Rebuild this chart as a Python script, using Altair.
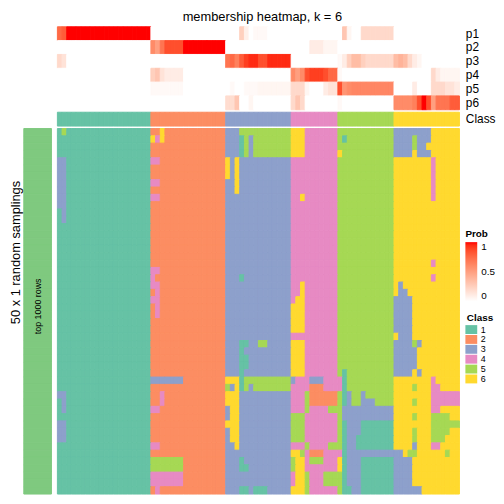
import altair as alt
import pandas as pd

TITLE = "membership heatmap, k = 6"
ROW_TITLE = "50 x 1 random samplings"
ANNOT_LABEL = "top 1000 rows"
FONT = "Liberation Sans"

CLASS_NAMES = ["1", "2", "3", "4", "5", "6"]
CLASS_COLORS = ["#66C2A5", "#FC8D62", "#8DA0CB", "#E78AC3", "#A6D854", "#FFD92F"]
ANNOT_COLOR = "#7FC97F"
PROB_ROWS = ["p1", "p2", "p3", "p4", "p5", "p6"]

# consensus class of each column (sample)
COL_CLASS = "11111111111111111111 2222222222222222 33333333333333 4444444444 555555555555 66666666666666"

# membership probabilities per column (segments follow the six class blocks)
P1 = [0.75, 0.8] + [1.0] * 18 + [0] * 16 + \
     [0, 0, 0, 0.25, 0.08, 0, 0.03, 0.03, 0.03, 0, 0, 0, 0, 0] + [0] * 10 + \
     [0, 0.3, 0.05, 0, 0, 0.2, 0.2, 0.2, 0.2, 0.2, 0.2, 0.2] + [0] * 14
P2 = [0] * 20 + [0.6, 0.5, 0.7, 0.85, 0.85, 0.85, 0.85] + [1.0] * 9 + [0] * 14 + \
     [0, 0, 0, 0, 0.1, 0.1, 0.1, 0.05, 0.05, 0.05] + [0] * 26
P3 = [0.2, 0.15] + [0] * 18 + [0] * 16 + \
     [0.7, 0.75, 0.65, 0.8, 0.9, 0.95, 0.95, 0.85, 0.85, 0.95, 0.95, 0.95, 0.95, 0.95] + [0] * 10 + \
     [0.03, 0.1, 0.25, 0.35, 0.35, 0.25, 0.2, 0.2, 0.2, 0.2, 0.2, 0.2] + \
     [0.35, 0.4, 0.35, 0.2, 0.1, 0.05, 0, 0, 0, 0, 0, 0, 0, 0]
P4 = [0] * 20 + [0.25, 0.3, 0.15, 0.1, 0.1, 0.1, 0.1] + [0] * 9 + [0] * 14 + \
     [0.6, 0.5, 0.6, 0.85, 0.9, 0.9, 0.9, 0.85, 0.75, 0.75] + [0.03] + [0] * 11 + \
     [0, 0, 0, 0, 0, 0, 0, 0, 0.2, 0.1, 0.05, 0.05, 0.05, 0.05]
P5 = [0] * 20 + [0.03] * 7 + [0] * 9 + \
     [0, 0.03, 0, 0, 0.03, 0.03, 0.03, 0.05, 0.05, 0.05, 0.05, 0.05, 0.05, 0.05] + \
     [0.2, 0.2, 0.2, 0.05, 0, 0, 0, 0.1, 0.15, 0.15] + \
     [0.85, 0.55, 0.6, 0.62, 0.62, 0.62, 0.62, 0.62, 0.62, 0.62, 0.62, 0.62] + \
     [0, 0, 0, 0, 0.1, 0, 0, 0, 0.2, 0.2, 0.2, 0.15, 0.15, 0.1]
P6 = [0] * 20 + [0] * 16 + [0.18, 0.18, 0.3, 0, 0, 0.05] + [0] * 8 + \
     [0.2, 0.3, 0.2] + [0] * 7 + [0.03] + [0] * 11 + \
     [0.6, 0.6, 0.6, 0.6, 0.65, 0.85, 1.0, 0.85, 0.5, 0.7, 0.7, 0.7, 0.8, 0.8]
PROBS = [P1, P2, P3, P4, P5, P6]

# class assigned to each column in each of the 50 random samplings
SAMPLINGS = [
    "15111111111111111111 2262222222222222 33355555555555 6664444444 555555555555 33333333666666",
    "11111111111111111111 6462222222222222 33315355555555 6664444444 515555555555 33335333666666",
    "11111111111111111111 2222222222222222 33315355555555 6664444444 555555555555 33335336666666",
    "11111111111111111111 2222222222222222 33315355555555 6664444444 655555555555 33336333666666",
    "33111111111111111111 4422222222222222 63633333333333 4444444444 555555555555 66666666466666",
    "33111111111111111111 2222222222222222 63633333333333 4444444444 555555555555 66666666466666",
    "33111111111111111111 2222222222222222 63633333333333 4444444444 555555555555 66666666466666",
    "33111111111111111111 4422222222222222 33633333333333 4444444444 555555555555 66666666466666",
    "33111111111111111111 2222222222222222 33633333333333 4444444444 555555555555 66666666466666",
    "33111111111111111111 4422222222222222 33333333333333 4464444444 555555555555 66666666466666",
    "33111111111111111111 2222222222222222 33333333333333 4444444444 555555555555 66666666666666",
    "13111111111111111111 2222222222222222 33333333333333 4444444444 555555555555 66666666666666",
    "13111111111111111111 2222222222222222 33333333333333 4444444444 555555555555 66666666666666",
    "11111111111111111111 2222222222222222 33333333333333 4444444444 555555555555 66666666666666",
    "11111111111111111111 2222222222222222 33333333333333 4444444444 555555555555 66666666666666",
    "11111111111111111111 2222222222222222 33333333333333 4444444444 555555555555 66666666666666",
    "11111111111111111111 2222222222222222 33333333333333 4444444444 555555555555 66666666666666",
    "11111111111111111111 2222222222222222 33333333333333 4444444444 555555555555 66666666666666",
    "11111111111111111111 2222222222222222 33333333333333 4444444444 555555555555 66666666466666",
    "11111111111111111111 4422222222222222 33333333333333 4444444444 555555555555 66666666666666",
    "11111111111111111111 4222222222222222 33313333333333 4444444444 555555555555 66666666466666",
    "11111111111111111111 4422222222222222 33333333333333 4464444444 555555555555 63666666666666",
    "11111111111111111111 2422222222222222 33333333333333 4464444444 555555555555 63366666666666",
    "11111111111111111111 4422222222222222 33333333333333 4664444444 555555555555 33336666666666",
    "11111111111111111111 2422222222222222 33333333333333 6664444444 555555555555 33336666666666",
    "11111111111111111111 2422222222222222 33333333333333 6664444444 555555555555 33336666666666",
    "11111111111111111111 2222222222222222 33333333333333 6664444444 555555555555 33336666666666",
    "11111111111111111111 2222222222222222 33333333333333 6664444444 555555555555 33336666666666",
    "11111111111111111111 2222222222222222 33333333333333 4444444444 555555555555 63336666666666",
    "11111111111111111111 2222222222222222 33311335533333 6664444444 555555555555 33335366666666",
    "11111111111111111111 2222222222222222 33313333333333 6664444444 555555555555 33333666666666",
    "11111111111111111111 2222222222222222 33311333333333 6664444444 555555555555 33333666666666",
    "11111111111111111111 2222222222222222 33311333333333 6664444444 555555555555 33333666666666",
    "11111111111111111111 2222222222222222 33313333333333 6664444444 515555555555 33336366666666",
    "11111111111111111111 3333333222222222 66615555555555 3444333444 415555555555 66666666466666",
    "11111111111111111111 2222222222222222 53615355555555 4444222444 415555555555 66665666446666",
    "33111111111111111111 2242222222222222 66633333333333 4445222222 513553555555 66666666444444",
    "13111111111111111111 2242222222222222 66633333333333 4445222222 513553335555 66665666444444",
    "13111111111111111111 4422222222222222 36633333333333 4445444455 533333333333 66666666446666",
    "11111111111111111111 2222222222222222 36633333333333 5554444444 533333333333 66665666555566",
    "33111111111111111111 2222222222222222 66633333333333 5554444444 513331111111 66666666555555",
    "33111111111111111111 2222222222222222 36633333333333 5554444444 513331111111 66665666555566",
    "33111111111111111111 2222222222222222 36633333333333 5554444444 513311111111 66665666555666",
    "11111111111111111111 4422222222222222 33633333333333 4445444455 513311111111 66663666446666",
    "11111111111111111111 2222222222222222 33333333333333 6654222444 413333333333 33655666666566",
    "11111111111111111111 5555555222222222 33313333333333 5664555444 613331111111 33336666666666",
    "11111111111111111111 5555555222222222 33311333333333 5664444444 613331111111 33336666666666",
    "11111111111111111111 4444444222222222 33333333333333 4665444555 513331111111 33336666666666",
    "11111111111111111111 4444444222222222 33333333333333 4665444555 513331111111 33336666666666",
    "11111111111111111111 2422222222222222 33311311133333 6665444444 511331111111 33333366666666",
]

# ---------------- tables ----------------
col_class = COL_CLASS.replace(" ", "")
n_cols = len(col_class)

prob_records = []
for name, vals in zip(PROB_ROWS, PROBS):
    assert len(vals) == n_cols
    for c, v in enumerate(vals):
        prob_records.append({"p": name, "col": c, "prob": v})
prob_df = pd.DataFrame(prob_records)

class_df = pd.DataFrame({"col": list(range(n_cols)), "cls": list(col_class), "lab": "Class"})

main_records = []
for r, s in enumerate(SAMPLINGS):
    s = s.replace(" ", "")
    assert len(s) == n_cols, (r, len(s))
    for c, ch in enumerate(s):
        main_records.append({"row": r, "col": c, "cls": ch})
main_df = pd.DataFrame(main_records)

annot_df = pd.DataFrame({"row": list(range(len(SAMPLINGS))), "ann": ANNOT_LABEL})

# ---------------- layout ----------------
W_MAIN = 407
H_PROB = 84
H_CLASS = 14
H_MAIN = 370
W_ANNOT = 28
SW = 1.0  # same-colour cell outline hides anti-aliasing seams

band = alt.Scale(paddingInner=0, paddingOuter=0)
prob_scale = alt.Scale(domain=[0, 1], range=["#ffffff", "#ff0000"], interpolate="lab")
# identical mapping written in reverse so its legend is not merged with the fill legend
edge_scale = alt.Scale(domain=[1, 0], range=["#ff0000", "#ffffff"], interpolate="lab")
class_scale = alt.Scale(domain=CLASS_NAMES, range=CLASS_COLORS)
xcol = alt.X("col:O", axis=None, scale=band)
row_axis = dict(orient="right", title=None, ticks=False, domain=False, labelPadding=6,
                labelFontSize=12, labelFont=FONT, labelColor="black")

prob_chart = alt.Chart(prob_df).mark_rect(strokeWidth=SW).encode(
    x=xcol,
    y=alt.Y("p:N", sort=PROB_ROWS, axis=alt.Axis(**row_axis), scale=band),
    fill=alt.Fill("prob:Q", scale=prob_scale, legend=alt.Legend(
        type="gradient", title="Prob", orient="none", legendX=413, legendY=205,
        direction="vertical", gradientLength=60, gradientThickness=12,
        values=[0, 0.5, 1], format="~g",
        titleFont=FONT, titleFontSize=10, titleFontWeight="bold", titleColor="black",
        labelFont=FONT, labelFontSize=10, labelColor="black", titlePadding=3, padding=0,
        gradientStrokeWidth=0, labelOffset=4)),
    stroke=alt.Stroke("prob:Q", scale=edge_scale, legend=None),
).properties(width=W_MAIN, height=H_PROB)

class_chart = alt.Chart(class_df).mark_rect(strokeWidth=SW).encode(
    x=xcol,
    y=alt.Y("lab:N", axis=alt.Axis(**row_axis), scale=band),
    fill=alt.Fill("cls:N", scale=class_scale, legend=None),
    stroke=alt.Stroke("cls:N", scale=class_scale, legend=None),
).properties(width=W_MAIN, height=H_CLASS)

main_chart = alt.Chart(main_df).mark_rect(strokeWidth=SW).encode(
    x=xcol,
    y=alt.Y("row:O", axis=None, scale=band),
    fill=alt.Fill("cls:N", scale=class_scale, legend=alt.Legend(
        title="Class", orient="none", legendX=414.5, legendY=187,
        symbolType="M-1.33,-1H1.33V1H-1.33Z", symbolSize=81, symbolStrokeWidth=0,
        rowPadding=-1, labelOffset=5, padding=0, titlePadding=2,
        titleFont=FONT, titleFontSize=10, titleFontWeight="bold", titleColor="black",
        labelFont=FONT, labelFontSize=9, labelColor="black")),
    stroke=alt.Stroke("cls:N", scale=class_scale, legend=None),
).properties(width=W_MAIN, height=H_MAIN)

annot_bar = alt.Chart(annot_df).mark_rect(strokeWidth=SW).encode(
    x=alt.X("ann:N", axis=None, scale=band),
    y=alt.Y("row:O", scale=band, axis=alt.Axis(
        title=ROW_TITLE, labels=False, ticks=False, domain=False, titleFont=FONT,
        titleFontSize=13, titleFontWeight="normal", titleColor="black",
        titlePadding=1, titleY=125)),
    fill=alt.value(ANNOT_COLOR),
    stroke=alt.value(ANNOT_COLOR),
)
# dx acts along the rotated text, i.e. it moves the label up the bar
annot_text = alt.Chart(pd.DataFrame({"t": [ANNOT_LABEL]})).mark_text(
    angle=270, fontSize=9, font=FONT, color="black", dx=5
).encode(text="t:N", x=alt.value(W_ANNOT / 2), y=alt.value(H_MAIN / 2))
annot_chart = alt.layer(annot_bar, annot_text).properties(width=W_ANNOT, height=H_MAIN)


def blank(h):
    return alt.Chart(pd.DataFrame({"z": [0]})).mark_point(opacity=0).encode(
        x=alt.value(0), y=alt.value(0)).properties(width=W_ANNOT, height=h)


chart = alt.concat(
    blank(H_PROB), prob_chart,
    blank(H_CLASS), class_chart,
    annot_chart, main_chart,
    columns=2, spacing={"row": 2.5, "column": 6}, bounds="flush", align="each",
).resolve_scale(fill="independent", stroke="independent").properties(
    title=alt.TitleParams(TITLE, fontSize=13, fontWeight="normal", font=FONT, color="black",
                          anchor="middle", offset=0, dx=10),
    padding={"left": 2, "top": 0, "right": 0, "bottom": 0}, background="white",
).configure(font=FONT).configure_view(stroke=None)

chart.save("out.html", embed_options={"renderer": "svg", "actions": False})
